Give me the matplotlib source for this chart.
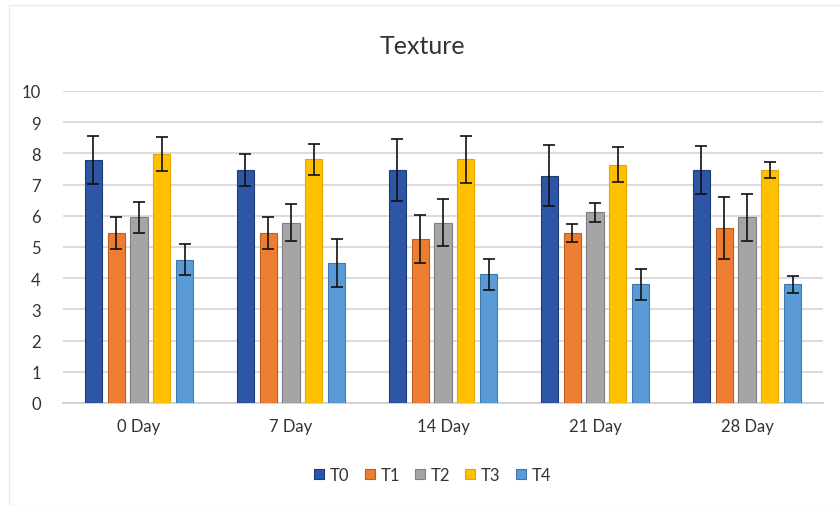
import matplotlib
matplotlib.use("Agg")
import matplotlib.pyplot as plt
import numpy as np
from matplotlib.patches import Rectangle

categories = ["0 Day", "7 Day", "14 Day", "21 Day", "28 Day"]
series = ["T0", "T1", "T2", "T3", "T4"]
T0 = [7.8, 7.47, 7.47, 7.29, 7.47]
T1 = [5.45, 5.45, 5.27, 5.45, 5.61]
T2 = [5.95, 5.78, 5.78, 6.11, 5.95]
T3 = [7.97, 7.81, 7.81, 7.64, 7.47]
T4 = [4.59, 4.49, 4.13, 3.81, 3.81]
T0_err = [0.77, 0.50, 0.98, 0.99, 0.76]
T1_err = [0.52, 0.52, 0.77, 0.29, 0.98]
T2_err = [0.50, 0.60, 0.76, 0.30, 0.76]
T3_err = [0.55, 0.50, 0.76, 0.56, 0.27]
T4_err = [0.50, 0.76, 0.50, 0.50, 0.27]
values = [T0, T1, T2, T3, T4]
errors = [T0_err, T1_err, T2_err, T3_err, T4_err]
colors = ["#2D56A6", "#ED7D31", "#A5A5A5", "#FFC000", "#5B9BD5"]
edges = ["#1F3C75", "#B85F24", "#7F7F7F", "#E0A800", "#3F78AE"]

plt.rcParams["font.family"] = ["Lato", "DejaVu Sans"]

fig = plt.figure(figsize=(8.4, 5.06), dpi=100)
ax = fig.add_axes([63/840, 1-404/506, (823-63)/840, (404-92)/506])

x = np.arange(len(categories))
step = 0.151
width = 0.112
for i, (name, vals, errs) in enumerate(zip(series, values, errors)):
    pos = x + (i - 2) * step
    ax.bar(pos, vals, width=width, color=colors[i], edgecolor=edges[i],
           linewidth=0.8, label=name, zorder=3)
    ax.errorbar(pos, vals, yerr=errs, fmt="none", ecolor="#111111",
                elinewidth=1.2, capsize=4.5, capthick=1.2, zorder=4)

ax.set_xlim(-0.5, len(categories) - 0.5)
ax.set_ylim(0, 10)
ax.set_yticks(range(0, 11))
ax.set_xticks(x)
ax.set_xticklabels(categories)
ax.tick_params(axis="both", length=0, labelsize=12, colors="#333333")
ax.tick_params(axis="y", pad=16)
ax.tick_params(axis="x", pad=11)
ax.grid(axis="y", color="#D9D9D9", linewidth=1.3, zorder=0)
for s in ["top", "right", "left"]:
    ax.spines[s].set_visible(False)
ax.spines["bottom"].set_color("#D0D0D0")
ax.spines["bottom"].set_linewidth(1.3)

fig.text(0.503, 1-47/506, "Texture", ha="center", va="center",
         fontsize=18, color="#333333")

leg = fig.legend(loc="center", bbox_to_anchor=(0.515, 1-476/506), ncol=5,
                 frameon=False, fontsize=12, handlelength=0.6,
                 handleheight=0.6, handletextpad=0.35, columnspacing=0.9)
for t in leg.get_texts():
    t.set_color("#333333")

fig.patches.append(Rectangle((9/840, 0), 1, 1-6/506, transform=fig.transFigure,
                             fill=False, edgecolor="#EBEBEB", linewidth=1.0))

fig.savefig("out.png", dpi=100)
